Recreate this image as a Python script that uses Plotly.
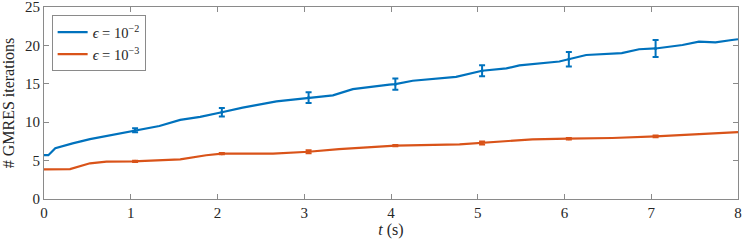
import plotly.graph_objects as go

# Blue series (epsilon = 1e-2)
t_blue = [0.0, 0.05, 0.13, 0.24, 0.33, 0.53, 0.72, 0.91, 1.05, 1.33, 1.57, 1.8, 2.05, 2.29, 2.68,
          3.05, 3.33, 3.56, 3.75, 3.98, 4.05, 4.25, 4.75, 5.05, 5.33, 5.48, 5.94, 6.05, 6.25,
          6.66, 6.86, 7.05, 7.36, 7.55, 7.74, 7.93, 8.0]
v_blue = [5.7, 5.7, 6.6, 7.0, 7.25, 7.8, 8.2, 8.7, 8.95, 9.5, 10.3, 10.7, 11.3, 11.9, 12.7,
          13.2, 13.5, 14.3, 14.6, 14.9, 14.95, 15.4, 15.9, 16.7, 17.0, 17.4, 17.9, 18.2, 18.75,
          19.0, 19.5, 19.6, 20.05, 20.5, 20.4, 20.7, 20.8]

# Red series (epsilon = 1e-3)
t_red = [0.0, 0.03, 0.3, 0.53, 0.72, 1.03, 1.57, 1.87, 2.05, 2.64, 3.05, 3.4, 3.79, 3.98, 4.05,
         4.79, 5.05, 5.25, 5.63, 6.04, 6.55, 7.05, 7.32, 7.7, 7.93, 8.0]
v_red = [3.86, 3.86, 3.9, 4.65, 4.86, 4.9, 5.17, 5.7, 5.9, 5.92, 6.15, 6.5, 6.8, 6.9, 6.95,
         7.1, 7.3, 7.55, 7.77, 7.85, 7.94, 8.15, 8.3, 8.55, 8.68, 8.7]

# Error bar locations
t_err = [1.05, 2.05, 3.05, 4.05, 5.05, 6.05, 7.05]
blue_mean = [8.95, 11.3, 13.2, 14.95, 16.7, 18.2, 19.6]
blue_err = [0.25, 0.55, 0.7, 0.74, 0.72, 0.94, 1.1]
red_mean = [4.9, 5.9, 6.15, 6.95, 7.3, 7.85, 8.15]
red_err = [0.08, 0.08, 0.2, 0.08, 0.2, 0.1, 0.12]

x_ticks = [0, 1, 2, 3, 4, 5, 6, 7, 8]
y_ticks = [0, 5, 10, 15, 20, 25]

BLUE = "#0072BD"
RED = "#D95319"
FONT = "Liberation Serif"

fig = go.Figure()
fig.add_trace(go.Scatter(x=t_blue, y=v_blue, mode="lines", line=dict(color=BLUE, width=2.2),
                         name="<i>ϵ</i> = 10<sup>−2</sup>"))
fig.add_trace(go.Scatter(x=t_red, y=v_red, mode="lines", line=dict(color=RED, width=2.2),
                         name="<i>ϵ</i> = 10<sup>−3</sup>"))
fig.add_trace(go.Scatter(x=t_err, y=blue_mean, mode="markers", showlegend=False,
                         marker=dict(color=BLUE, size=3),
                         error_y=dict(type="data", array=blue_err, color=BLUE, thickness=2, width=3)))
fig.add_trace(go.Scatter(x=t_err, y=red_mean, mode="markers", showlegend=False,
                         marker=dict(color=RED, size=3),
                         error_y=dict(type="data", array=red_err, color=RED, thickness=2, width=3)))

axis_common = dict(showgrid=False, zeroline=False, showline=True, linecolor="#8a8a8a",
                   linewidth=1, mirror="ticks", ticks="inside", ticklen=5, tickcolor="#8a8a8a",
                   automargin=False, ticklabeloverflow="allow",
                   tickfont=dict(family=FONT, size=15, color="#262626"))

fig.update_xaxes(range=[0, 8], tickvals=x_ticks,
                 title=dict(text="<i>t</i> (s)", font=dict(family=FONT, size=16, color="#262626"),
                            standoff=2),
                 **axis_common)
fig.update_yaxes(range=[0, 25], tickvals=y_ticks,
                 title=dict(text="# GMRES iterations", font=dict(family=FONT, size=16, color="#262626"),
                            standoff=6),
                 **axis_common)

fig.update_layout(
    width=747, height=242,
    margin=dict(l=44, r=9, t=7, b=43),
    plot_bgcolor="white", paper_bgcolor="white",
    legend=dict(x=0.011, y=0.957, xanchor="left", yanchor="top",
                bgcolor="white", bordercolor="#8a8a8a", borderwidth=1,
                font=dict(family=FONT, size=14.5, color="#262626"),
                tracegroupgap=0, itemwidth=30),
)

fig.write_html("out.html", config={"displayModeBar": False},
               post_script="document.body.style.margin='0px';document.body.style.overflow='hidden';")
